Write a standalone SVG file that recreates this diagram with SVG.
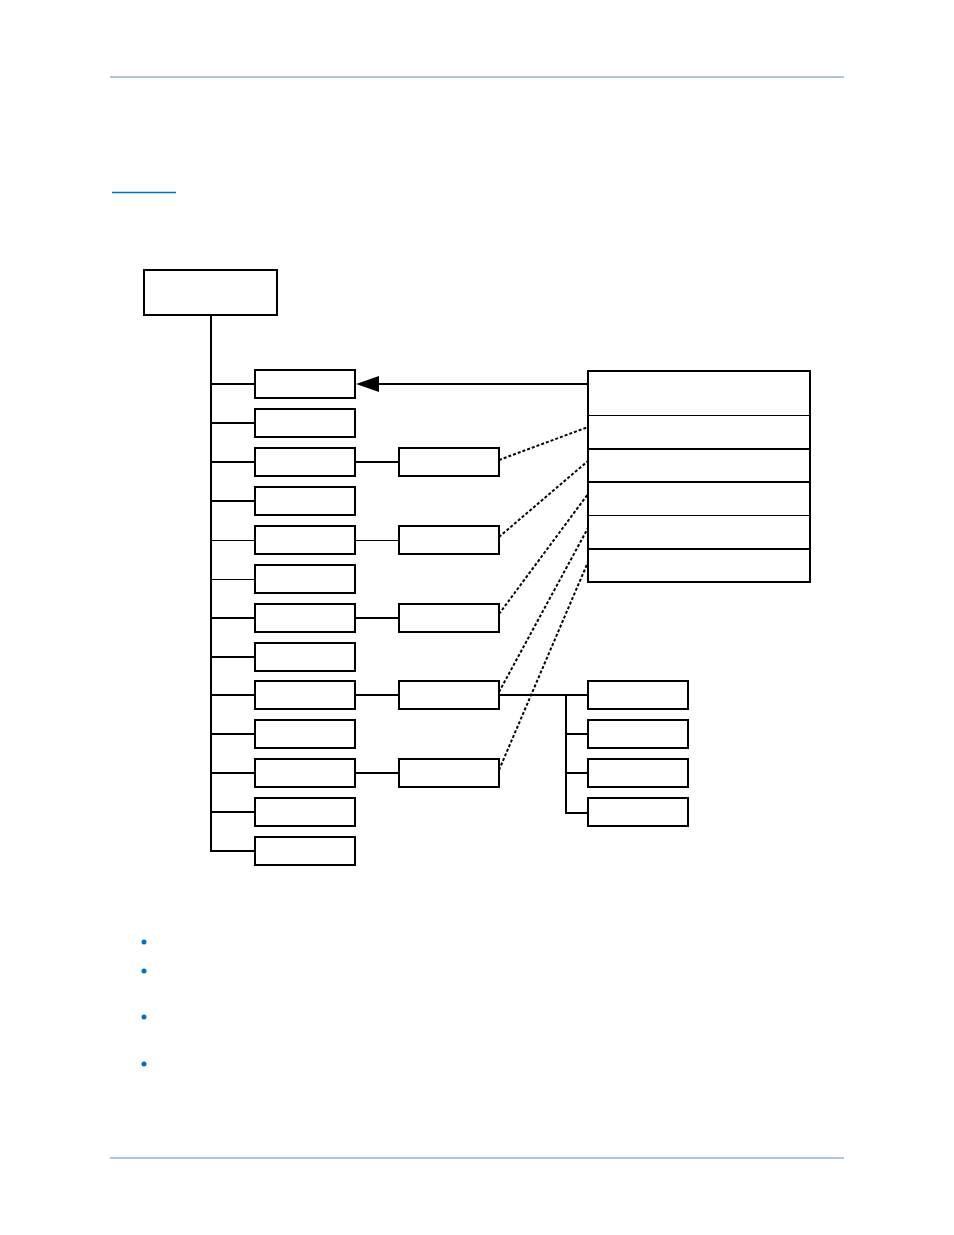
<svg xmlns="http://www.w3.org/2000/svg" width="954" height="1235" viewBox="0 0 954 1235">
<style>.b{fill:#fff;stroke:#000;stroke-width:2}.l{stroke:#000;stroke-width:2;fill:none}.d{stroke:#000;stroke-width:2;stroke-dasharray:3 2;fill:none}.t{stroke:#000;stroke-width:1;fill:none}</style>
<rect width="954" height="1235" fill="#fff"/>
<line x1="110" y1="77" x2="844" y2="77" stroke="#95b3d7" stroke-width="1.5"/>
<line x1="110" y1="1158" x2="844" y2="1158" stroke="#95b3d7" stroke-width="1.5"/>
<line x1="112" y1="192.5" x2="176" y2="192.5" stroke="#0070c0" stroke-width="1.5"/>
<g id="connectors">
<path class="l" d="M211,315V852M211,384H255M211,423H255M211,462H255M211,501H255M211,618H255M211,657H255M211,695H255M211,734H255M211,773H255M211,812H255M211,851H255"/>
<path class="t" d="M211,540.5H255M211,579.5H255M355,540.5H399"/>
<path class="l" d="M355,462H399M355,618H399M355,695H399M355,773H399"/>
<path class="l" d="M499,695H588M566,695V813H588M566,734H588M566,773H588"/>
<line class="l" x1="588" y1="384" x2="375" y2="384"/>
<polygon points="356,384 379,376 379,392" fill="#000"/>
<path class="d" d="M499,460L588,427M499,537L588,461M499,614L588,494M499,692L588,528M499,770L588,562"/>
</g>
<g id="top"><rect class="b" x="144" y="270" width="133" height="45"/></g>
<g id="left">
<rect class="b" x="255" y="370" width="100" height="28"/><rect class="b" x="255" y="409" width="100" height="28"/><rect class="b" x="255" y="448" width="100" height="28"/><rect class="b" x="255" y="487" width="100" height="28"/><rect class="b" x="255" y="526" width="100" height="28"/><rect class="b" x="255" y="565" width="100" height="28"/><rect class="b" x="255" y="604" width="100" height="28"/><rect class="b" x="255" y="643" width="100" height="28"/><rect class="b" x="255" y="681" width="100" height="28"/><rect class="b" x="255" y="720" width="100" height="28"/><rect class="b" x="255" y="759" width="100" height="28"/><rect class="b" x="255" y="798" width="100" height="28"/><rect class="b" x="255" y="837" width="100" height="28"/>
</g>
<g id="mid">
<rect class="b" x="399" y="448" width="100" height="28"/><rect class="b" x="399" y="526" width="100" height="28"/><rect class="b" x="399" y="604" width="100" height="28"/><rect class="b" x="399" y="681" width="100" height="28"/><rect class="b" x="399" y="759" width="100" height="28"/>
</g>
<g id="panel">
<rect class="b" x="588" y="371" width="222" height="211"/>
<line x1="588" y1="415.5" x2="810" y2="415.5" stroke="#000" stroke-width="1"/>
<line class="l" x1="588" y1="449" x2="810" y2="449"/>
<line class="l" x1="588" y1="482" x2="810" y2="482"/>
<line x1="588" y1="515.5" x2="810" y2="515.5" stroke="#000" stroke-width="1"/>
<line class="l" x1="588" y1="549" x2="810" y2="549"/>
</g>
<g id="children">
<rect class="b" x="588" y="681" width="100" height="28"/><rect class="b" x="588" y="720" width="100" height="28"/><rect class="b" x="588" y="759" width="100" height="28"/><rect class="b" x="588" y="798" width="100" height="28"/>
</g>
<g fill="#0070c0"><circle cx="144" cy="942" r="2.5"/><circle cx="144" cy="971" r="2.5"/><circle cx="144" cy="1017" r="2.5"/><circle cx="144" cy="1064" r="2.5"/></g>
</svg>
